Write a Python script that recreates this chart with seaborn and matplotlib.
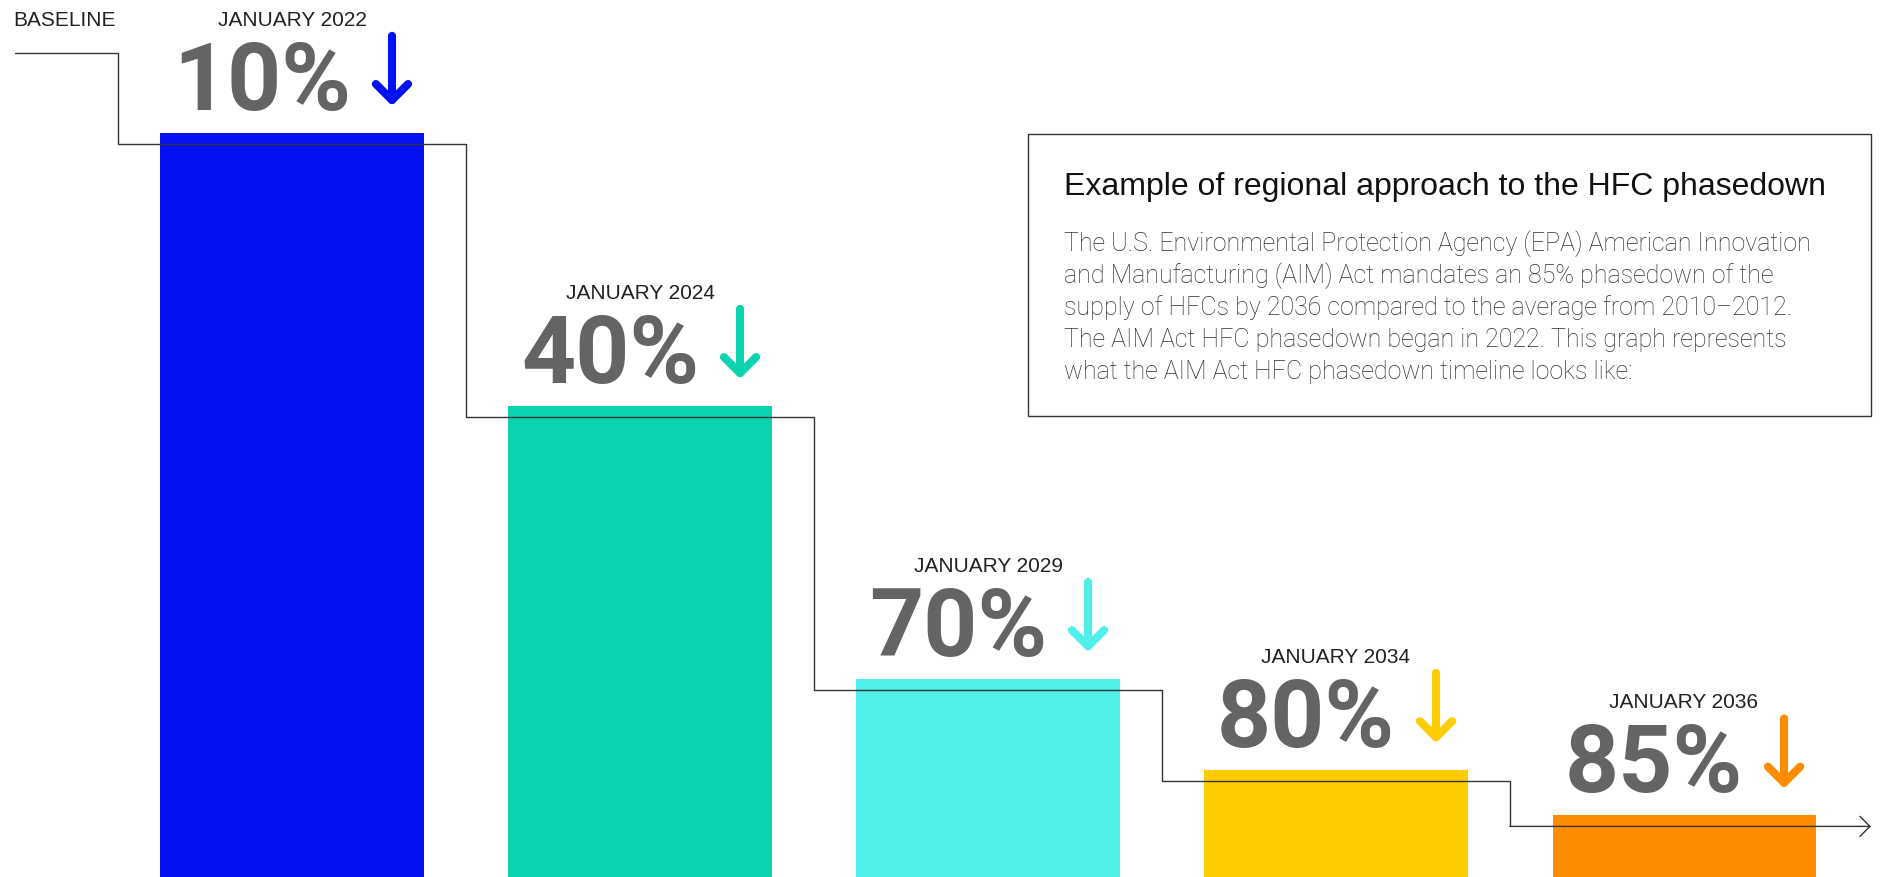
# hfc_phasedown_chart.py

import matplotlib
matplotlib.use("Agg")
import matplotlib.pyplot as plt
import matplotlib.transforms as mtransforms
from matplotlib.patches import Rectangle
import seaborn as sns

# ------------------------------
# Data
# ------------------------------
dates = ["JANUARY 2022", "JANUARY 2024", "JANUARY 2029", "JANUARY 2034", "JANUARY 2036"]
reduction = [10, 40, 70, 80, 85]   # % phasedown vs. the 2010-2012 baseline
baseline = 100
bar_colors = ["#0411F2", "#0BD3B0", "#50EFEA", "#FFCC00", "#FF8B00"]

title = "Example of regional approach to the HFC phasedown"
body_lines = [
    "The U.S. Environmental Protection Agency (EPA) American Innovation",
    "and Manufacturing (AIM) Act mandates an 85% phasedown of the",
    "supply of HFCs by 2036 compared to the average from 2010\u20132012.",
    "The AIM Act HFC phasedown began in 2022. This graph represents",
    "what the AIM Act HFC phasedown timeline looks like:",
]

# supply left after each step (bar height)
remaining = [baseline - r for r in reduction]

W, H = 1896, 878
GRAY = "#636466"
LINE = "#333333"


def fx(px):
    return px / W


def fy(py):
    return 1 - py / H


# ------------------------------
# Chart
# ------------------------------
def plot_phasedown():
    sns.set_style("white")
    plt.rcParams["font.family"] = ["Liberation Sans", "DejaVu Sans"]

    fig = plt.figure(figsize=(W / 100, H / 100), dpi=100)
    ax = fig.add_axes([0, 0, 1, 1])

    sns.barplot(x=dates, y=remaining, hue=dates, palette=bar_colors,
                saturation=1, width=0.756, linewidth=0, legend=False, ax=ax)
    ax.set_xlim(-0.839, 4.609)
    ax.set_ylim(8.24, 104.7)
    ax.axis("off")

    # step line running just under the top of each bar
    offset = 1.2
    xs = [-0.796] + [i - 0.5 for i in range(len(remaining))]
    ys = [baseline - offset] + [v - offset for v in remaining]
    ax.step(xs, ys, where="post", color=LINE, lw=1.0, zorder=5)
    ax.annotate("", xy=(4.537, ys[-1]), xytext=(xs[-1], ys[-1]),
                arrowprops=dict(arrowstyle="->,head_length=0.4,head_width=0.4",
                                mutation_scale=18, lw=1.0, color=LINE,
                                shrinkA=0, shrinkB=0), zorder=5)

    fig.text(fx(13), fy(26), "BASELINE", fontsize=15, color="#222222",
             ha="left", va="baseline")

    # labels above each bar
    for i, (v, r, d, c) in enumerate(zip(remaining, reduction, dates, bar_colors)):
        ax.annotate(d, xy=(i, v), xytext=(0, 108), textcoords="offset pixels",
                    ha="center", va="baseline", fontsize=15, color="#222222")
        ax.annotate(f"{r}%", xy=(i, v), xytext=(-30, 24), textcoords="offset pixels",
                    ha="center", va="baseline", fontsize=68, color=GRAY,
                    family=["Roboto", "DejaVu Sans"], fontweight="bold")
        tip = mtransforms.offset_copy(ax.transData, fig=fig, x=100, y=27, units="dots")
        ax.annotate("", xy=(i, v), xycoords=tip, xytext=(0, 70),
                    textcoords="offset pixels",
                    arrowprops=dict(arrowstyle="->,head_length=0.4,head_width=0.4",
                                    mutation_scale=29, lw=5.8, color=c,
                                    shrinkA=0, shrinkB=0))

    # text box
    box = Rectangle((fx(1028), fy(417)), fx(1871) - fx(1028), fy(135) - fy(417),
                    transform=fig.transFigure, fill=False, edgecolor=LINE, lw=1.0)
    fig.patches.append(box)
    fig.text(fx(1064), fy(195), title, fontsize=23, color="#111111",
             ha="left", va="baseline")
    for k, line in enumerate(body_lines):
        fig.text(fx(1064), fy(251 + 32 * k), line, fontsize=18, color="#2E2E2E",
                 ha="left", va="baseline", family=["Roboto", "DejaVu Sans"],
                 fontweight="light")

    fig.savefig("out.png", dpi=100)


if __name__ == "__main__":
    plot_phasedown()
